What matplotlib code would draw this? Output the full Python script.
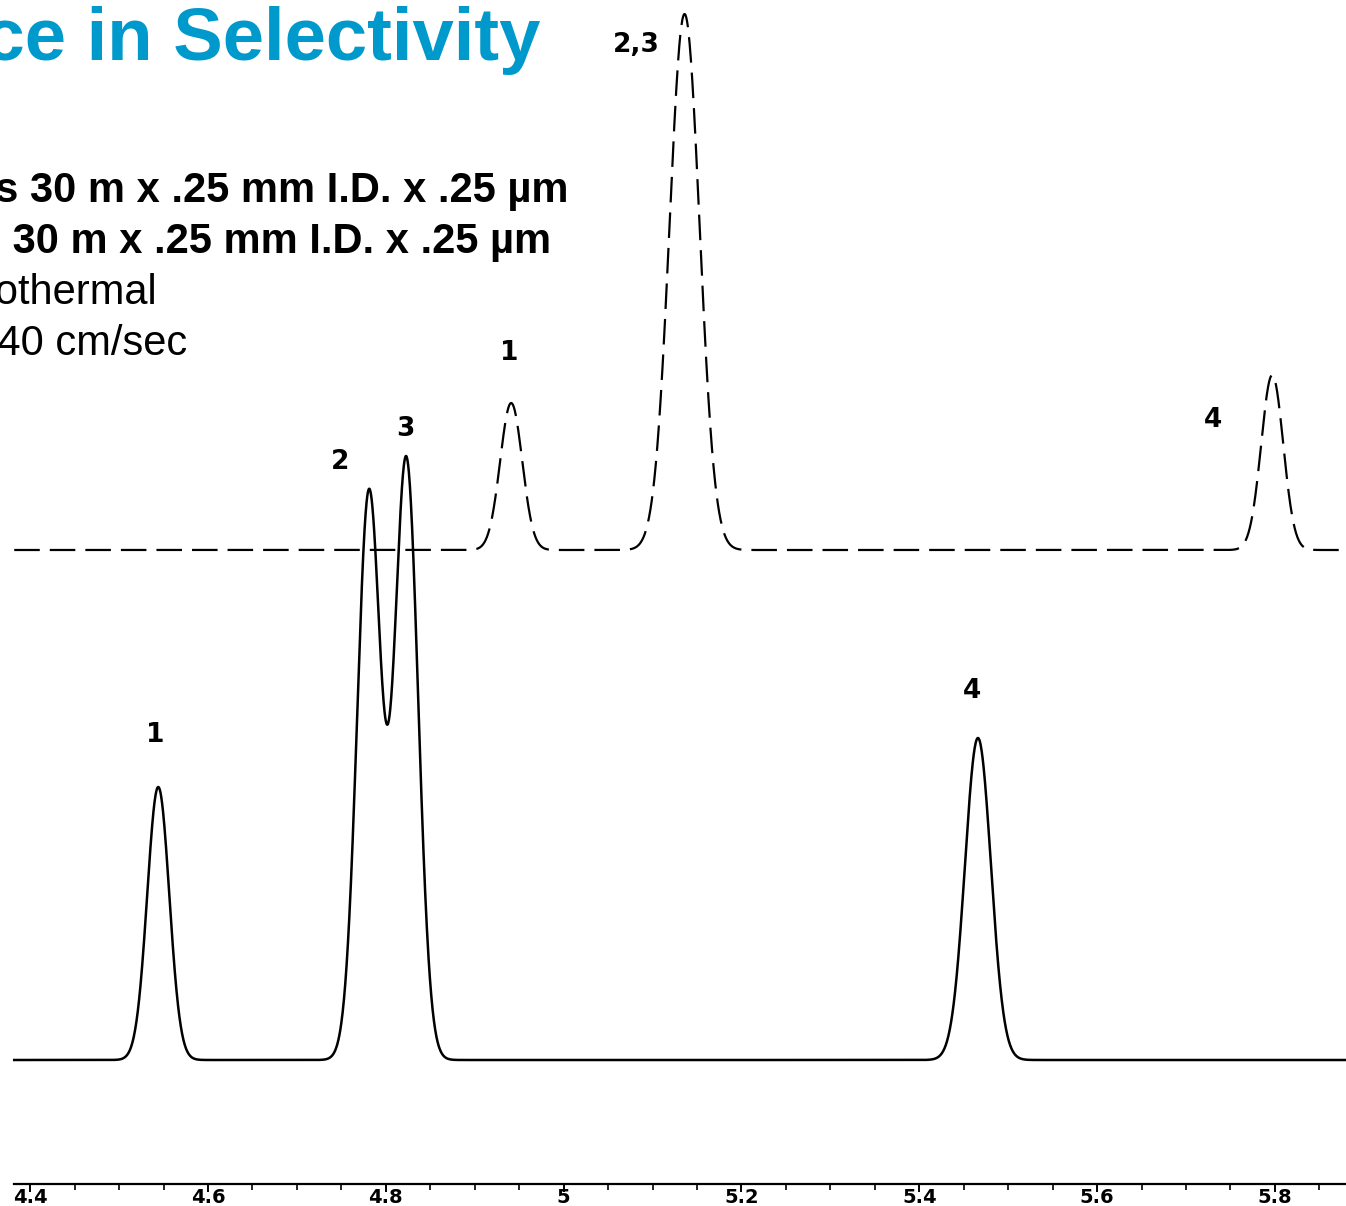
import numpy as np
import matplotlib
matplotlib.use("Agg")
import matplotlib.pyplot as plt
from matplotlib.ticker import FixedLocator, MultipleLocator

plt.rcParams["font.family"] = ["Liberation Sans", "DejaVu Sans"]

# peak tables: retention time (min), height, sigma (min)
solid_labels = ["1", "2", "3", "4"]
solid_times = [4.544, 4.781, 4.823, 5.466]
solid_heights = [273, 567, 600, 322]
solid_widths = [0.0124, 0.0133, 0.0133, 0.0146]

dashed_labels = ["1", "2,3", "4"]
dashed_times = [4.941, 5.136, 5.797]
dashed_heights = [147, 536, 175]
dashed_widths = [0.0124, 0.0169, 0.0124]
dashed_baseline = 510

tick_values = [4.4, 4.6, 4.8, 5.0, 5.2, 5.4, 5.6, 5.8]
tick_labels = ["4.4", "4.6", "4.8", "5", "5.2", "5.4", "5.6", "5.8"]

title = "Difference in Selectivity"
info_lines = [
    "Rtx-1ms 30 m x .25 mm I.D. x .25 µm",
    "Rtx-5 30 m x .25 mm I.D. x .25 µm",
    "Oven: 100 °C isothermal",
    "Velocity: 40 cm/sec",
]

# label placement relative to each peak top (pixels)
solid_offsets = [(-3, 52), (-29, 27), (-1, 27), (-6, 47)]
dashed_offsets = [(-2, 50), (-48, -31), (-59, -45)]


def trace(t, times, heights, widths, base=0.0):
    y = np.full_like(t, base)
    for rt, h, s in zip(times, heights, widths):
        y += h * np.exp(-0.5 * ((t - rt) / s) ** 2)
    return y


fig = plt.figure(figsize=(13.46, 12.06), dpi=100)
ax = fig.add_axes([0, 0, 1, 1])
ax.set_xlim(4.366, 5.880)
ax.set_ylim(-146, 1060)

t = np.linspace(4.382, 5.880, 4000)
ax.plot(t, trace(t, solid_times, solid_heights, solid_widths),
        color="black", lw=1.8)
ax.plot(t, trace(t, dashed_times, dashed_heights, dashed_widths, dashed_baseline),
        color="black", lw=1.6, linestyle=(0, (11.5, 4.5)))

label_font = dict(fontsize=19, fontweight="bold", family="DejaVu Sans")
for lab, rt, off in zip(solid_labels, solid_times, solid_offsets):
    top = trace(np.array([rt]), solid_times, solid_heights, solid_widths)[0]
    ax.annotate(lab, (rt, top), xytext=off, textcoords="offset pixels",
                ha="center", va="center", **label_font)
for lab, rt, h, off in zip(dashed_labels, dashed_times, dashed_heights, dashed_offsets):
    ax.annotate(lab, (rt, dashed_baseline + h), xytext=off, textcoords="offset pixels",
                ha="center", va="center", **label_font)

for side in ["left", "top", "right"]:
    ax.spines[side].set_visible(False)
ax.yaxis.set_visible(False)
ax.spines["bottom"].set_position(("data", -124))
ax.spines["bottom"].set_bounds(4.382, 5.880)
ax.spines["bottom"].set_linewidth(1.6)
ax.xaxis.set_major_locator(FixedLocator(tick_values))
ax.set_xticklabels(tick_labels)
ax.xaxis.set_minor_locator(MultipleLocator(0.05))
ax.tick_params(axis="x", which="major", direction="out", length=6, width=1.4,
               pad=-3, labelsize=14)
ax.tick_params(axis="x", which="minor", direction="out", length=4, width=1.2)
for lbl in ax.get_xticklabels():
    lbl.set_fontweight("bold")
    lbl.set_family("DejaVu Sans")

W, H = 1346, 1206
fig.text(540 / W, 1 - 60 / H, title, ha="right", va="baseline",
         fontsize=53.5, fontweight="bold", color="#0099cc")
right_edges = [568, 551, 157, 187]
baselines = [202, 253, 304, 355]
weights = ["bold", "bold", "normal", "normal"]
for line, xr, yb, w in zip(info_lines, right_edges, baselines, weights):
    fig.text(xr / W, 1 - yb / H, line, ha="right", va="baseline",
             fontsize=30, fontweight=w, color="black")

fig.savefig("out.png", dpi=100)
